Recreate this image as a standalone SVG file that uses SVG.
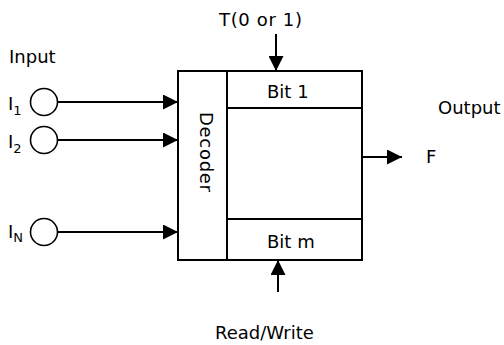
<svg xmlns="http://www.w3.org/2000/svg" width="504" height="345" viewBox="0 0 504 345">
<style>
text{font-family:"DejaVu Sans","Liberation Sans",sans-serif;fill:#000}
.t{font-size:18px}
.s{font-size:13px}
.ln{stroke:#000;stroke-width:2;fill:none}
.c{stroke:#000;stroke-width:1.6;fill:#fff}
</style>
<defs>
<marker id="ah" viewBox="0 0 15 15" refX="15" refY="7.5" markerWidth="15" markerHeight="15" markerUnits="userSpaceOnUse" orient="auto">
<path d="M0,0 L15,7.5 L0,15 Z" fill="#000"/>
</marker>
</defs>
<rect width="504" height="345" fill="#fff"/>
<text class="t" x="9" y="63">Input</text>
<g id="in1">
<circle class="c" cx="44" cy="102" r="13.5"/>
<text class="t" x="8" y="110">I<tspan class="s" dy="5">1</tspan></text>
</g>
<g id="in2">
<circle class="c" cx="44" cy="140" r="13.5"/>
<text class="t" x="8" y="148">I<tspan class="s" dy="5">2</tspan></text>
</g>
<g id="inN">
<circle class="c" cx="44" cy="232" r="13.5"/>
<text class="t" x="8" y="238">I<tspan class="s" dy="4">N</tspan></text>
</g>
<g id="memory">
<rect class="ln" x="178" y="71" width="184" height="189"/>
<line class="ln" x1="227" y1="71" x2="227" y2="260"/>
<line class="ln" x1="227" y1="108" x2="362" y2="108"/>
<line class="ln" x1="227" y1="219" x2="362" y2="219"/>
<text class="t" x="267" y="98">Bit 1</text>
<text class="t" x="267" y="248">Bit m</text>
<text class="t" transform="translate(200,112) rotate(90)" textLength="80" lengthAdjust="spacing">Decoder</text>
</g>
<text class="t" x="219" y="26" textLength="83" lengthAdjust="spacing">T(0 or 1)</text>
<text class="t" x="215" y="339">Read/Write</text>
<text class="t" x="438" y="114">Output</text>
<text class="t" x="426" y="163">F</text>
<g id="connectors">
<line class="ln" x1="57.5" y1="102" x2="178" y2="102" marker-end="url(#ah)"/>
<line class="ln" x1="57.5" y1="140" x2="178" y2="140" marker-end="url(#ah)"/>
<line class="ln" x1="57.5" y1="232" x2="178" y2="232" marker-end="url(#ah)"/>
<line class="ln" x1="276" y1="34" x2="276" y2="71" marker-end="url(#ah)"/>
<line class="ln" x1="278" y1="292" x2="278" y2="260" marker-end="url(#ah)"/>
<line class="ln" x1="362" y1="157" x2="402" y2="157" marker-end="url(#ah)"/>
</g>
</svg>
